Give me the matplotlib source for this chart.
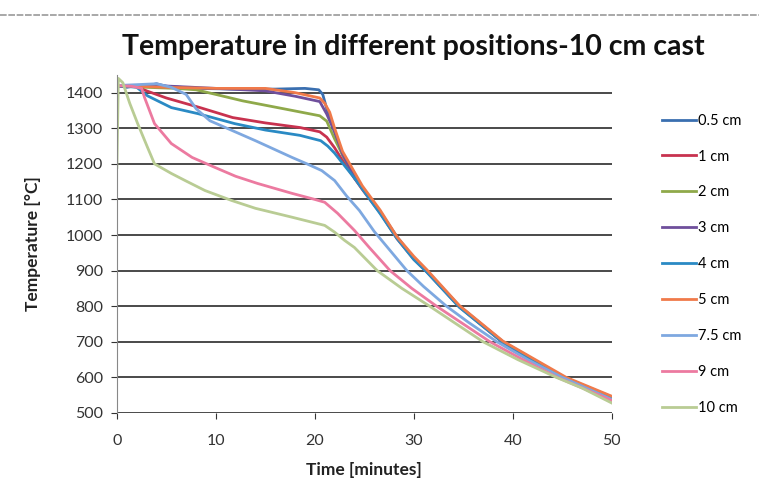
import matplotlib
matplotlib.use("Agg")
import matplotlib.pyplot as plt
from matplotlib.lines import Line2D

# ─── Data ────────────────────────────────────────────────────────────────────

labels = ["0.5 cm", "1 cm", "2 cm", "3 cm", "4 cm", "5 cm", "7.5 cm", "9 cm", "10 cm"]
colors = ["#3a6fb0", "#c8324f", "#8fa94a", "#6f4f9c", "#2a8ac4",
          "#f07a4a", "#7ea8e0", "#ec7aa0", "#b9cc94"]

t_05 = [0, 1, 2, 3, 4, 5, 8, 12, 16, 19, 20.4, 20.8, 21.3, 22, 22.8, 24, 25, 26.6, 28.3, 30, 31.3, 34.6, 39, 45, 50]
T_05 = [1420, 1415, 1420, 1418, 1425, 1418, 1412, 1410, 1410, 1412, 1408, 1395, 1345, 1290, 1225, 1160, 1125, 1065, 995, 935, 898, 800, 700, 603, 542]

t_1 = [0, 2, 3, 5, 8.4, 11.7, 15, 18.5, 20.5, 21.2, 22, 23, 24.8, 26.6, 28.3, 30, 31.3, 34.6, 39, 45, 50]
T_1 = [1420, 1418, 1405, 1385, 1358, 1330, 1315, 1302, 1290, 1275, 1245, 1200, 1128, 1062, 990, 932, 897, 798, 698, 601, 543]

t_2 = [0, 3, 6, 8, 10, 12.7, 16.8, 20.5, 21.2, 22, 22.8, 24, 26.6, 28.3, 30, 31.3, 34.6, 39, 45, 50]
T_2 = [1420, 1415, 1412, 1408, 1395, 1377, 1355, 1335, 1320, 1270, 1225, 1165, 1064, 992, 934, 899, 799, 699, 602, 544]

t_3 = [0, 4, 10, 15, 18, 20.5, 21.2, 22, 22.8, 24, 26.6, 28.3, 30, 31.3, 34.6, 39, 45, 50]
T_3 = [1418, 1420, 1412, 1405, 1390, 1375, 1340, 1290, 1228, 1163, 1066, 993, 935, 900, 800, 700, 602, 545]

t_4 = [0, 2, 3.1, 5.5, 8.2, 11.9, 15, 18.5, 20.6, 21.3, 22, 23, 24, 26.6, 28.3, 30, 31.3, 34.6, 39, 45, 50]
T_4 = [1420, 1415, 1391, 1358, 1341, 1313, 1295, 1280, 1265, 1250, 1230, 1195, 1160, 1060, 990, 931, 896, 797, 698, 601, 543]

t_5 = [0, 5, 10, 15, 18, 20.5, 21, 21.5, 22, 22.8, 24.8, 26.6, 28.3, 30, 31.3, 34.6, 39, 45.4, 50]
T_5 = [1420, 1415, 1412, 1412, 1400, 1385, 1370, 1345, 1300, 1235, 1138, 1070, 995, 940, 903, 802, 702, 600, 547]

t_75 = [0, 4, 5.5, 7, 8, 9.4, 11.7, 14, 17.7, 19.2, 20.7, 22, 23.2, 24.5, 26, 27.5, 29.3, 31, 33.3, 35.5, 38.4, 41.5, 45, 50]
T_75 = [1420, 1425, 1415, 1395, 1355, 1321, 1293, 1265, 1218, 1200, 1181, 1153, 1110, 1069, 1010, 960, 900, 855, 800, 755, 700, 650, 600, 538]

t_9 = [0, 1.5, 2.5, 2.8, 3.8, 5.5, 7.6, 9.9, 12, 14.2, 17.7, 20, 21, 22.3, 24, 25.5, 27.6, 29.8, 32.3, 35, 37.7, 41, 44.5, 50]
T_9 = [1420, 1418, 1412, 1386, 1313, 1257, 1218, 1190, 1165, 1145, 1117, 1100, 1092, 1061, 1013, 965, 900, 850, 800, 750, 700, 650, 600, 535]

t_10 = [0, 0.15, 0.6, 1.3, 2.1, 3.1, 3.8, 5.5, 6.9, 8.9, 11.6, 14, 17.7, 21, 22, 23, 24, 26.3, 28.8, 31.6, 34.3, 37, 40.5, 44.4, 47, 50]
T_10 = [1190, 1440, 1428, 1370, 1313, 1246, 1200, 1173, 1153, 1125, 1097, 1075, 1050, 1027, 1008, 985, 965, 900, 850, 800, 750, 700, 650, 600, 570, 528]

series_t = [t_05, t_1, t_2, t_3, t_4, t_5, t_75, t_9, t_10]
series_T = [T_05, T_1, T_2, T_3, T_4, T_5, T_75, T_9, T_10]

x_ticks = [0, 10, 20, 30, 40, 50]
y_ticks = [500, 600, 700, 800, 900, 1000, 1100, 1200, 1300, 1400]

# ─── Plot ────────────────────────────────────────────────────────────────────

plt.rcParams["font.family"] = ["Lato", "DejaVu Sans"]

fig = plt.figure(figsize=(7.59, 4.83), dpi=100)
ax = fig.add_axes([0.154, 0.145, 0.652, 0.700])

for yt in y_ticks:
    ax.axhline(yt, color="#4a4a4a", linewidth=1.4, zorder=1)

for t, T, c, lab in zip(series_t, series_T, colors, labels):
    ax.plot(t, T, color=c, linewidth=2.0, label=lab, zorder=2)

ax.set_xlim(0, 50)
ax.set_ylim(500, 1450)
ax.set_xticks(x_ticks)
ax.set_yticks(y_ticks)
ax.tick_params(axis="both", labelsize=11.5, colors="#333333", length=4, width=0.8)
ax.tick_params(axis="x", pad=11)
ax.tick_params(axis="y", pad=6)

for side in ["top", "right", "bottom"]:
    ax.spines[side].set_visible(False)
ax.spines["left"].set_color("#888888")

ax.set_xlabel("Time [minutes]", fontsize=12.5, fontweight="bold", color="#222222",
              labelpad=10)
ax.set_ylabel("Temperature [°C]", fontsize=12.5, fontweight="bold", color="#222222",
              labelpad=18)
fig.suptitle("Temperature in different positions-10 cm cast", fontsize=20.5,
             fontweight="bold", x=0.545, y=0.93, color="#111111")

ax.legend(loc="center left", bbox_to_anchor=(1.075, 0.44), frameon=False,
          fontsize=10.5, handlelength=2.3, handletextpad=0.15, labelspacing=1.5)

# scanned page border at the top
fig.add_artist(Line2D([0, 1], [0.969, 0.969], color="#999999", linewidth=1.2,
                      linestyle=(0, (4, 1))))

fig.savefig("out.png", dpi=100)
